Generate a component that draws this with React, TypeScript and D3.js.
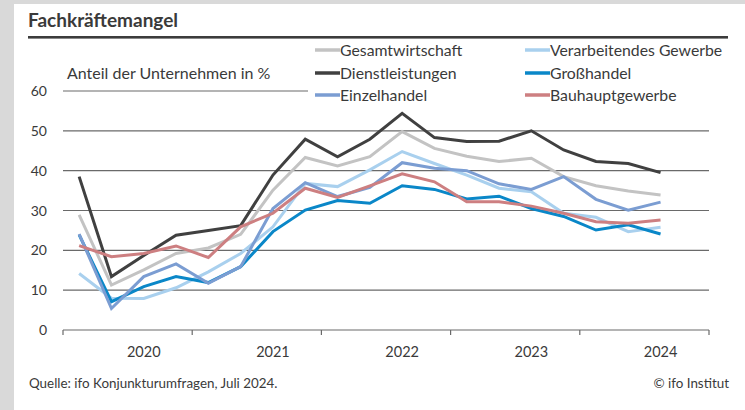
import React from "react";
import * as d3 from "d3";

const W = 745;
const H = 410;

const years = ["2020", "2021", "2022", "2023", "2024"];
const yTicks = [0, 10, 20, 30, 40, 50, 60];

// quarterly values, 2020 Q1 .. 2024 Q3
const gesamtwirtschaft = [28.9, 11.3, 15.1, 19.2, 20.6, 24.0, 35.1, 43.3, 41.2, 43.5, 49.8, 45.6, 43.6, 42.3, 43.1, 38.5, 36.2, 34.9, 33.9];
const verarbeitendes = [14.2, 8.0, 7.9, 10.6, 14.6, 19.2, 25.9, 36.8, 36.0, 40.2, 44.8, 41.8, 38.9, 35.6, 34.7, 29.3, 28.3, 24.7, 25.8];
const dienstleistungen = [38.5, 13.4, 18.7, 23.8, 25.0, 26.2, 38.9, 47.9, 43.5, 47.9, 54.4, 48.3, 47.3, 47.4, 50.0, 45.2, 42.3, 41.8, 39.5];
const grosshandel = [23.9, 7.1, 10.9, 13.4, 11.9, 15.9, 24.7, 30.1, 32.5, 31.8, 36.2, 35.3, 32.9, 33.6, 30.5, 28.5, 25.1, 26.4, 24.1];
const einzelhandel = [24.1, 5.4, 13.4, 16.6, 11.7, 15.9, 30.5, 37.0, 33.5, 35.8, 42.0, 40.6, 40.0, 36.7, 35.3, 38.5, 32.8, 30.1, 32.1];
const bauhaupt = [21.2, 18.4, 19.2, 21.1, 18.2, 25.9, 29.3, 35.6, 33.3, 36.2, 39.2, 37.2, 32.2, 32.2, 31.1, 29.3, 27.2, 26.8, 27.6];

const seriesNames = ["Gesamtwirtschaft", "Verarbeitendes Gewerbe", "Dienstleistungen", "Großhandel", "Einzelhandel", "Bauhauptgewerbe"];
const seriesColors = ["#c3c3c3", "#a9d0ee", "#404040", "#0a87c8", "#7b9dd2", "#cd7f81"];
const seriesData = [gesamtwirtschaft, verarbeitendes, dienstleistungen, grosshandel, einzelhandel, bauhaupt];

const FONT = "Lato, 'Noto Sans', sans-serif";
const TXT = "#3a3a3a";

export default function App() {
  const x0 = 63;
  const x1 = 709;
  const yBottom = 330;
  const yTop = 91;

  // time scale in quarters from 2020 start
  const x = d3.scaleLinear().domain([0, 20]).range([x0, x1]);
  const y = d3.scaleLinear().domain([0, 60]).range([yBottom, yTop]);

  const line = d3
    .line<number>()
    .x((_, i) => x(i + 0.5))
    .y((d) => y(d));

  const legendCols = [315, 525];
  const legendRows = [50, 73, 95];

  return (
    <div style={{ position: "fixed", left: 0, top: 0 }}>
      <svg width={W} height={H} style={{ display: "block" }}>
        <rect x={0} y={0} width={W} height={H} fill="#ffffff" />
        <rect x={0} y={0} width={W} height={4} fill="#d9d9d9" />
        <rect x={0} y={0} width={14} height={H} fill="#d9d9d9" />

        <text x={28} y={27} fontFamily={FONT} fontWeight={700} fontSize={19} fill={TXT}>
          Fachkräftemangel
        </text>
        <rect x={28} y={36} width={700} height={2.6} fill="#3c3c3c" />

        {/* gridlines */}
        {yTicks.filter((t) => t > 0).map((t) => (
          <line
            key={t}
            x1={x0}
            x2={t === 60 ? 308 : x1}
            y1={y(t)}
            y2={y(t)}
            stroke="#6a6a6a"
            strokeWidth={1.2}
          />
        ))}
        {yTicks.map((t) => (
          <text
            key={"l" + t}
            x={47}
            y={y(t)}
            dy="0.36em"
            textAnchor="end"
            fontFamily={FONT}
            fontSize={14}
            fill={TXT}
          >
            {t}
          </text>
        ))}

        {/* x axis */}
        <line x1={x0} x2={x1} y1={yBottom} y2={yBottom} stroke="#6a6a6a" strokeWidth={1.2} />
        {d3.range(0, 21, 4).map((q) => (
          <line key={"t" + q} x1={x(q)} x2={x(q)} y1={yBottom} y2={yBottom + 5} stroke="#6a6a6a" strokeWidth={1.2} />
        ))}
        {years.map((yr, i) => (
          <text
            key={yr}
            x={x(i * 4 + 2.5)}
            y={352}
            dy="0.36em"
            textAnchor="middle"
            fontFamily={FONT}
            fontSize={14.5}
            fill={TXT}
          >
            {yr}
          </text>
        ))}

        <text x={67} y={73} dy="0.36em" fontFamily={FONT} fontSize={16} fill={TXT}>
          Anteil der Unternehmen in %
        </text>

        {/* series */}
        {seriesData.map((s, k) => (
          <path
            key={seriesNames[k]}
            d={line(s) || ""}
            fill="none"
            stroke={seriesColors[k]}
            strokeWidth={3}
            strokeLinejoin="miter"
          />
        ))}

        {/* legend */}
        {seriesNames.map((name, j) => {
          const cx = legendCols[j % 2];
          const cy = legendRows[Math.floor(j / 2)];
          return (
            <g key={"lg" + name}>
              <line x1={cx} x2={cx + 25} y1={cy} y2={cy} stroke={seriesColors[j]} strokeWidth={3.5} />
              <text x={cx + 25} y={cy} dy="0.36em" fontFamily={FONT} fontSize={15.8} fill={TXT}>
                {name}
              </text>
            </g>
          );
        })}

        <text x={29} y={383} dy="0.36em" fontFamily={FONT} fontSize={13.4} fill={TXT}>
          Quelle: ifo Konjunkturumfragen, Juli 2024.
        </text>
        <text x={729} y={383} dy="0.36em" textAnchor="end" fontFamily={FONT} fontSize={13.4} fill={TXT}>
          © ifo Institut
        </text>
      </svg>
    </div>
  );
}
